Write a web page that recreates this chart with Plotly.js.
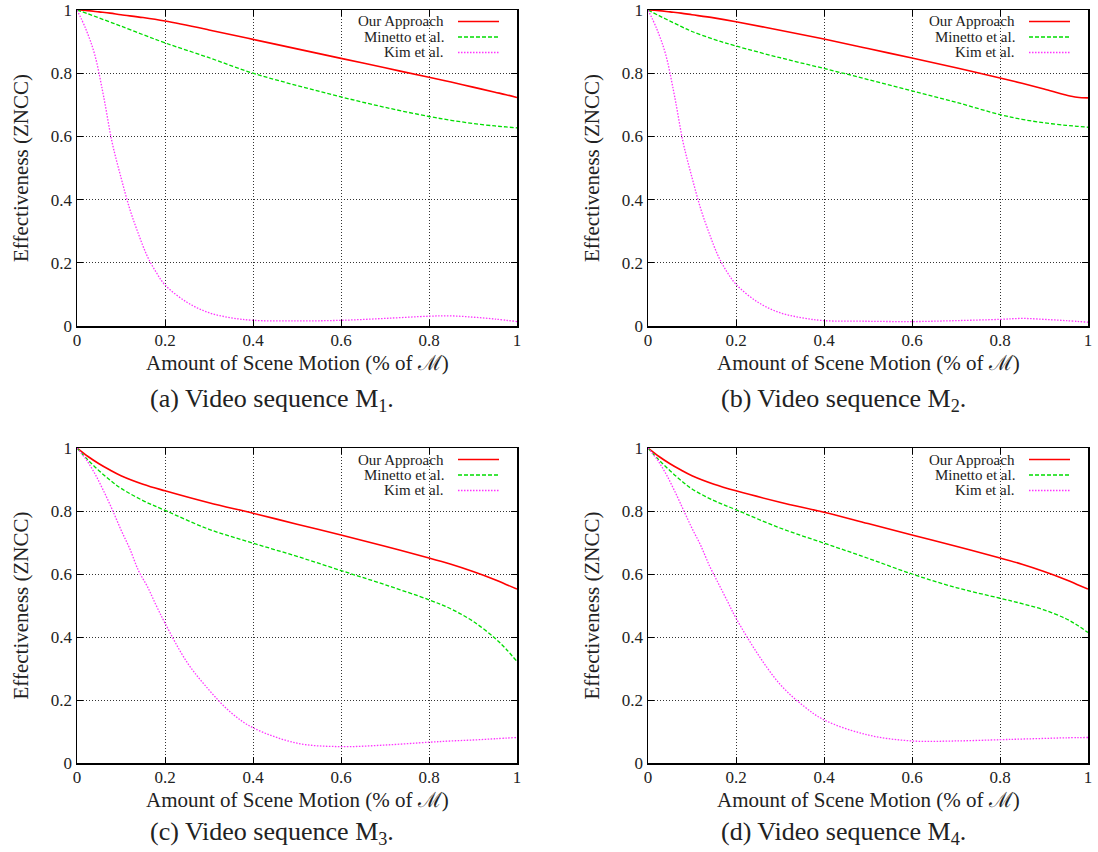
<!DOCTYPE html>
<html>
<head>
<meta charset="utf-8">
<script src="https://cdn.plot.ly/plotly-3.0.1.min.js"></script>
<style>
html,body{margin:0;padding:0;background:#fff;}
#chart{width:1098px;height:852px;}
</style>
</head>
<body>
<div id="chart"></div>
<script>
// ---------------- data ----------------
const seriesNames = ["Our Approach", "Minetto et al.", "Kim et al."];
const xTickVals = [0, 0.2, 0.4, 0.6, 0.8, 1];
const xTickLabels = ["0", "0.2", "0.4", "0.6", "0.8", "1"];
const yTickVals = [0, 0.2, 0.4, 0.6, 0.8, 1];
const yTickLabels = ["0", "0.2", "0.4", "0.6", "0.8", "1"];
const captions = [
  "(a) Video sequence M<sub>1</sub>.",
  "(b) Video sequence M<sub>2</sub>.",
  "(c) Video sequence M<sub>3</sub>.",
  "(d) Video sequence M<sub>4</sub>."
];
const xTitle = "Amount of Scene Motion (% of \u2133)";
const yTitle = "Effectiveness (ZNCC)";

// sample positions (fraction of scene motion)
const xMid = [0, 0.025, 0.05, 0.075, 0.1, 0.15, 0.2, 0.3, 0.4, 0.5, 0.6, 0.7, 0.8, 0.85, 0.9, 0.95, 0.975, 1];
const xFine = [0, 0.02, 0.04, 0.06, 0.08, 0.1, 0.12, 0.14, 0.16, 0.18, 0.2, 0.25, 0.3, 0.35, 0.4, 0.5, 0.6, 0.7, 0.8, 0.85, 0.9, 0.95, 1];

// M1
const ourM1 = [1, 0.998, 0.994, 0.99, 0.985, 0.976, 0.965, 0.937, 0.907, 0.877, 0.847, 0.817, 0.787, 0.772, 0.756, 0.740, 0.732, 0.723];
const minettoM1 = [1, 0.988, 0.975, 0.962, 0.949, 0.922, 0.896, 0.849, 0.80, 0.761, 0.725, 0.692, 0.663, 0.651, 0.641, 0.633, 0.63, 0.627];
const kimM1 = [1, 0.94, 0.86, 0.73, 0.58, 0.47, 0.37, 0.29, 0.22, 0.17, 0.13, 0.075, 0.042, 0.026, 0.018, 0.016, 0.018, 0.024, 0.031, 0.032, 0.028, 0.022, 0.014];
// M2
const ourM2 = [1, 0.998, 0.994, 0.99, 0.985, 0.975, 0.963, 0.936, 0.908, 0.878, 0.848, 0.817, 0.785, 0.768, 0.750, 0.731, 0.724, 0.722];
const minettoM2 = [1, 0.982, 0.965, 0.948, 0.932, 0.907, 0.886, 0.849, 0.815, 0.78, 0.744, 0.708, 0.669, 0.654, 0.643, 0.635, 0.632, 0.629];
const kimM2 = [1, 0.94, 0.86, 0.73, 0.58, 0.47, 0.37, 0.29, 0.22, 0.17, 0.132, 0.075, 0.042, 0.026, 0.017, 0.015, 0.014, 0.017, 0.021, 0.024, 0.021, 0.017, 0.012];
// M3
const ourM3 = [1, 0.973, 0.95, 0.93, 0.912, 0.885, 0.864, 0.826, 0.793, 0.758, 0.724, 0.688, 0.651, 0.631, 0.608, 0.582, 0.567, 0.552];
const minettoM3 = [1, 0.962, 0.928, 0.898, 0.872, 0.833, 0.802, 0.742, 0.698, 0.656, 0.611, 0.566, 0.518, 0.489, 0.45, 0.396, 0.362, 0.322];
const kimM3 = [1, 0.965, 0.92, 0.865, 0.805, 0.74, 0.68, 0.61, 0.56, 0.50, 0.444, 0.32, 0.232, 0.16, 0.112, 0.063, 0.052, 0.057, 0.066, 0.07, 0.073, 0.077, 0.081];
// M4
const ourM4 = [1, 0.973, 0.95, 0.93, 0.912, 0.885, 0.864, 0.828, 0.796, 0.76, 0.724, 0.688, 0.651, 0.631, 0.608, 0.582, 0.567, 0.552];
const minettoM4 = [1, 0.962, 0.928, 0.897, 0.87, 0.833, 0.804, 0.746, 0.698, 0.65, 0.60, 0.557, 0.523, 0.506, 0.486, 0.458, 0.438, 0.414];
const kimM4 = [1, 0.965, 0.92, 0.865, 0.805, 0.745, 0.69, 0.625, 0.57, 0.515, 0.46, 0.345, 0.25, 0.185, 0.137, 0.089, 0.07, 0.07, 0.074, 0.076, 0.078, 0.08, 0.081];

// ---------------- layout / styling ----------------
const W = 1098, H = 852;
const FONT = 'Liberation Serif';
const TXT = '#222';
const styles = [
  {color: '#ff0000', width: 1.6, dash: 'solid'},
  {color: '#00dd00', width: 1.3, dash: '4px,2px'},
  {color: '#ff33ff', width: 1.3, dash: '1.5px,1.5px'}
];
const panels = [
  {left: 77, right: 517, top: 10, bottom: 326, capX: 272, capY: 400, data: [ourM1, minettoM1, kimM1]},
  {left: 648, right: 1088, top: 10, bottom: 326, capX: 843, capY: 400, data: [ourM2, minettoM2, kimM2]},
  {left: 77, right: 517, top: 448, bottom: 763, capX: 272, capY: 833, data: [ourM3, minettoM3, kimM3]},
  {left: 648, right: 1088, top: 448, bottom: 763, capX: 843, capY: 833, data: [ourM4, minettoM4, kimM4]}
];
const px = v => v / W;
const py = v => 1 - v / H;

const traces = [];
const layout = {
  width: W, height: H,
  margin: {l: 0, r: 0, t: 0, b: 0},
  paper_bgcolor: '#fff', plot_bgcolor: '#fff',
  showlegend: false,
  font: {family: FONT, color: TXT},
  annotations: [], shapes: []
};

panels.forEach((p, i) => {
  const n = i === 0 ? '' : String(i + 1);
  const xa = 'x' + n, ya = 'y' + n;
  p.data.forEach((ys, k) => {
    traces.push({
      type: 'scatter', mode: 'lines',
      x: k === 2 ? xFine : xMid, y: ys,
      xaxis: xa, yaxis: ya, name: seriesNames[k],
      line: {color: styles[k].color, width: styles[k].width, dash: styles[k].dash, shape: 'spline', smoothing: 1},
      hoverinfo: 'x+y+name'
    });
  });
  const common = {
    range: [0, 1], showgrid: true, gridcolor: '#333', griddash: '1px,2px', gridwidth: 1,
    zeroline: false, showline: true, linecolor: '#000', linewidth: 1.5, mirror: 'ticks',
    ticks: 'inside', ticklen: 6, tickwidth: 1, tickcolor: '#000',
    tickfont: {family: FONT, size: 17, color: TXT}
  };
  layout['xaxis' + n] = Object.assign({}, common, {
    domain: [px(p.left), px(p.right)], anchor: ya,
    tickvals: xTickVals, ticktext: xTickLabels, ticklabelstandoff: -2
  });
  layout['yaxis' + n] = Object.assign({}, common, {
    domain: [py(p.bottom), py(p.top)], anchor: xa,
    tickvals: yTickVals, ticktext: yTickLabels,
    title: {text: yTitle, font: {family: FONT, size: 21, color: TXT}, standoff: 16}
  });
  // x-axis title, placed tight under the tick labels as in the reference
  layout.annotations.push({
    xref: 'paper', yref: 'paper', x: px((p.left + p.right) / 2), y: py(p.bottom + 37),
    xanchor: 'center', yanchor: 'middle', showarrow: false,
    text: xTitle, font: {family: FONT, size: 21, color: TXT}
  });
  // caption
  layout.annotations.push({
    xref: 'paper', yref: 'paper', x: px(p.capX), y: py(p.capY),
    xanchor: 'center', yanchor: 'middle', showarrow: false,
    text: captions[i], font: {family: FONT, size: 26, color: TXT}
  });
  // legend: text on the left, line sample on the right (gnuplot style)
  const rows = [11.5, 27, 42.5];
  seriesNames.forEach((nm, k) => {
    const yy = py(p.top + rows[k]);
    layout.annotations.push({
      xref: 'paper', yref: 'paper', x: px(p.right - 71), y: yy,
      xanchor: 'right', yanchor: 'middle', showarrow: false,
      text: nm, font: {family: FONT, size: 15, color: TXT}
    });
    layout.shapes.push({
      type: 'line', xref: 'paper', yref: 'paper',
      x0: px(p.right - 59), x1: px(p.right - 18), y0: yy, y1: yy,
      line: {color: styles[k].color, width: styles[k].width, dash: styles[k].dash}
    });
  });
});

Plotly.newPlot('chart', traces, layout, {displayModeBar: false, staticPlot: true});
</script>
</body>
</html>
